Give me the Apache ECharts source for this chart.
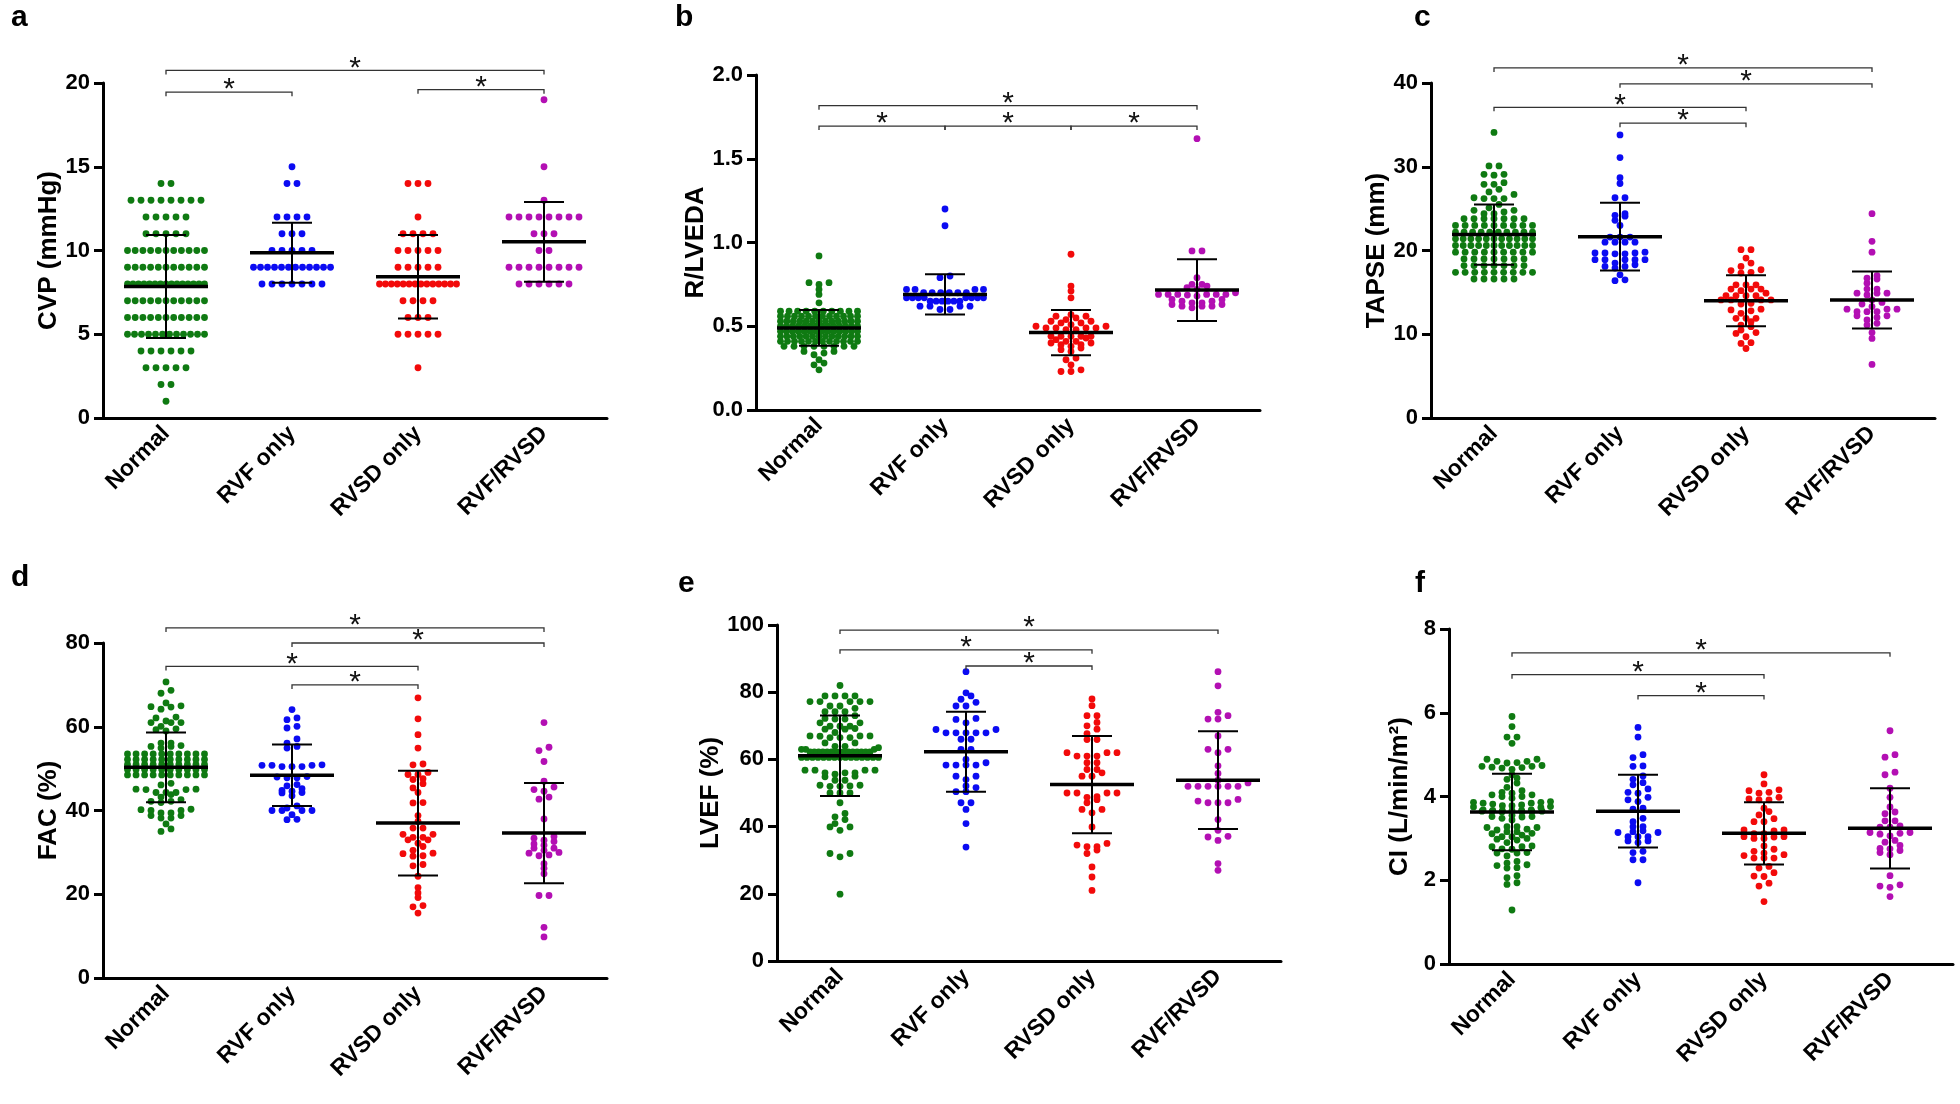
<!DOCTYPE html>
<html>
<head>
<meta charset="utf-8">
<title>RV function groups</title>
<script src="https://cdn.jsdelivr.net/npm/echarts@6/dist/echarts.min.js"></script>
<style>
  html, body { margin: 0; padding: 0; background: #fff; }
  #chart { width: 1960px; height: 1104px; }
</style>
</head>
<body>
<div id="chart"></div>
<script>
const groups = ['Normal', 'RVF only', 'RVSD only', 'RVF/RVSD']
const groupColors = ['#0f7a12', '#0b0bf2', '#f20a0a', '#b30fb3']

// a: CVP (mmHg)
const cvpNormal = [14, 14, 13, 13, 13, 13, 13, 13, 13, 13, 12, 12, 12, 12, 12, 11, 11, 11, 11, 11,
  10, 10, 10, 10, 10, 10, 10, 10, 10, 10, 10, 9, 9, 9, 9, 9, 9, 9, 9, 9, 9, 9,
  8, 8, 8, 8, 8, 8, 8, 8, 8, 8, 8, 8, 8, 8, 8, 7, 7, 7, 7, 7, 7, 7, 7, 7, 7, 7,
  6, 6, 6, 6, 6, 6, 6, 6, 6, 6, 6, 5, 5, 5, 5, 5, 5, 5, 5, 5, 5, 5, 5,
  4, 4, 4, 4, 4, 4, 3, 3, 3, 3, 3, 2, 2, 1]
const cvpRvf = [15, 14, 14, 12, 12, 12, 12, 11, 11, 11, 10, 10, 10, 10, 10,
  9, 9, 9, 9, 9, 9, 9, 9, 9, 9, 9, 9, 8, 8, 8, 8, 8, 8, 8]
const cvpRvsd = [14, 14, 14, 12, 11, 11, 11, 11, 10, 10, 10, 10, 10, 9, 9, 9, 9, 9,
  8, 8, 8, 8, 8, 8, 8, 8, 8, 8, 8, 8, 8, 8, 7, 7, 7, 7, 6, 6, 6, 5, 5, 5, 5, 5, 3]
const cvpBoth = [19, 15, 13, 12, 12, 12, 12, 12, 12, 12, 12, 11, 11, 11, 10, 10,
  9, 9, 9, 9, 9, 9, 9, 9, 8, 8, 8, 8, 8, 8]
const cvpMean = [7.85, 9.86, 8.43, 10.52]
const cvpSd = [3.07, 1.79, 2.49, 2.38]
const cvpMarks = [[0, 1, 19.45], [0, 3, 20.75], [2, 3, 19.6]]

// b: R/LVEDA
const rlNormal = [0.92, 0.76, 0.75, 0.76, 0.72, 0.69, 0.64,
  0.59, 0.59, 0.59, 0.59, 0.59, 0.59, 0.59, 0.59, 0.59, 0.59,
  0.56, 0.56, 0.56, 0.56, 0.56, 0.56, 0.56, 0.56, 0.56, 0.56, 0.56, 0.56,
  0.53, 0.53, 0.53, 0.53, 0.53, 0.53, 0.53, 0.53, 0.53, 0.53, 0.53, 0.53, 0.53,
  0.50, 0.50, 0.50, 0.50, 0.50, 0.50, 0.50, 0.50, 0.50, 0.50, 0.50, 0.50, 0.50, 0.50,
  0.47, 0.47, 0.47, 0.47, 0.47, 0.47, 0.47, 0.47, 0.47, 0.47, 0.47, 0.47, 0.47, 0.47,
  0.44, 0.44, 0.44, 0.44, 0.44, 0.44, 0.44, 0.44, 0.44, 0.44, 0.44, 0.44, 0.44,
  0.41, 0.41, 0.41, 0.41, 0.41, 0.41, 0.41, 0.41, 0.41, 0.41, 0.41, 0.41,
  0.38, 0.38, 0.38, 0.38, 0.38, 0.38, 0.38, 0.38,
  0.35, 0.33, 0.34, 0.35, 0.28, 0.30, 0.27, 0.24]
const rlRvf = [1.20, 1.10, 0.79, 0.80, 0.72, 0.72, 0.72, 0.72, 0.70, 0.70, 0.70, 0.70, 0.70, 0.70,
  0.67, 0.67, 0.67, 0.67, 0.67, 0.67, 0.67, 0.67, 0.65, 0.65, 0.65, 0.65, 0.65, 0.65,
  0.62, 0.62, 0.62, 0.62, 0.60, 0.60]
const rlRvsd = [0.93, 0.74, 0.71, 0.67, 0.57, 0.56, 0.55, 0.53, 0.52, 0.51, 0.50, 0.52, 0.53, 0.54, 0.56,
  0.49, 0.48, 0.50, 0.48, 0.49, 0.49, 0.49, 0.44, 0.44, 0.44, 0.44, 0.44,
  0.42, 0.41, 0.40, 0.39, 0.37, 0.38, 0.39, 0.40, 0.41, 0.43,
  0.36, 0.35, 0.31, 0.30, 0.27, 0.24, 0.23, 0.23]
const rlBoth = [1.62, 0.95, 0.95, 0.79, 0.75, 0.75, 0.74, 0.73, 0.72, 0.70, 0.69, 0.69, 0.68, 0.69,
  0.69, 0.69, 0.69, 0.686, 0.66, 0.65, 0.64, 0.63, 0.62, 0.62, 0.61, 0.62, 0.63, 0.64, 0.65, 0.66]
const rlMean = [0.49, 0.69, 0.462, 0.716]
const rlSd = [0.107, 0.12, 0.135, 0.184]
const rlMarks = [[0, 3, 1.817], [0, 1, 1.695], [1, 2, 1.695], [2, 3, 1.695]]

// c: TAPSE (mm)
const tapseNormal = [34.1, 30.1, 30.1, 29.1, 29.1, 29.0, 28.1, 27.9, 27.9, 27.0, 27.3,
  26.3, 26.2, 26.2, 26.2, 26.7, 25.1, 24.8, 25.5, 24.4, 24.4, 24.8, 24.6,
  23.8, 23.8, 23.8, 23.8, 23.8, 23.8, 23.8, 23.0, 23.0, 23.0, 23.0, 23.0, 23.0, 23.0, 23.0, 23.0,
  22.2, 22.2, 22.2, 22.2, 22.2, 22.2, 22.2, 22.2, 22.2, 22.2,
  21.4, 21.4, 21.4, 21.4, 21.4, 21.4, 21.4, 21.4, 21.4, 21.4, 21.4,
  20.6, 20.6, 20.6, 20.6, 20.6, 20.6, 20.6, 20.6, 20.6, 20.6, 20.6,
  19.8, 19.8, 19.8, 19.8, 19.8, 19.8, 19.8, 19.8, 19.8,
  19.0, 19.0, 19.0, 19.0, 19.0, 19.0, 19.0, 18.2, 18.2, 18.2, 18.2, 18.2, 18.2, 18.2,
  17.4, 17.4, 17.4, 17.4, 17.4, 17.4, 17.4, 17.4, 17.4, 16.6, 16.6, 16.6, 16.6, 16.6]
const tapseRvf = [33.8, 31.1, 28.7, 28.0, 26.3, 26.3, 24.4, 24.1, 24.2, 23.6, 23.0,
  21.6, 21.0, 21.0, 21.0, 21.0, 21.6, 21.6, 19.7, 19.6, 19.7, 19.7, 19.6, 19.8,
  18.9, 18.9, 18.9, 18.9, 18.9, 18.3, 18.1, 18.1, 18.5, 17.1, 17.9, 16.4, 16.5]
const tapseRvsd = [20.1, 20.1, 19.1, 18.5, 18.1, 17.6, 17.3, 17.4, 17.7, 15.9, 15.9, 15.4, 15.4, 15.4, 15.9,
  14.9, 14.6, 14.6, 15.2, 14.6, 14.6, 14.1, 14.1, 14.1, 14.1, 13.6, 13.7, 13.0, 12.8, 12.5, 12.9,
  11.9, 11.9, 11.1, 11.5, 11.9, 10.5, 10.1, 9.7, 10.2, 10.9, 9.0, 8.3, 8.9]
const tapseBoth = [24.4, 21.1, 19.8, 17.0, 16.6, 16.7, 16.1, 14.9, 14.9, 15.4, 15.4, 14.7, 14.9,
  13.6, 14.1, 13.8, 13.0, 13.0, 12.7, 12.7, 12.7, 13.0, 13.3, 12.2, 11.7, 11.3, 12.0, 12.2,
  11.1, 10.2, 9.5, 6.4]
const tapseMean = [21.9, 21.65, 14.0, 14.1]
const tapseSd = [3.6, 4.05, 3.03, 3.4]
const tapseMarks = [[0, 3, 41.8], [1, 3, 39.9], [0, 2, 37.1], [1, 2, 35.2]]

// d: FAC (%)
const facNormal = [70.7, 68.7, 68.0, 65.7, 64.8, 64.2, 64.7, 65.0, 62.1, 61.0, 61.0, 60.1, 61.0, 61.4, 62.3,
  59.3, 59.0, 59.5, 56.1, 55.5, 55.3, 54.9, 55.3, 56.1,
  53.5, 53.5, 53.5, 53.5, 53.5, 53.5, 53.5, 53.5, 53.5, 53.5,
  52.2, 52.2, 52.2, 52.2, 52.2, 52.2, 52.2, 52.2, 52.2, 52.2,
  51.0, 51.0, 51.0, 51.0, 51.0, 51.0, 51.0, 51.0, 51.0, 51.0,
  49.8, 49.8, 49.8, 49.8, 49.8, 49.8, 49.8, 49.8, 49.8, 49.8,
  48.5, 48.5, 48.5, 48.5, 48.5, 48.5, 48.5, 48.5, 48.5, 48.5,
  46.5, 45.1, 45.0, 44.3, 44.3, 44.3, 45.0, 45.1, 46.1, 43.2, 42.6, 41.9, 42.2, 42.2, 43.8,
  40.2, 40.0, 39.4, 38.8, 38.2, 38.2, 38.8, 39.4, 40.0, 40.3, 36.8, 35.0, 35.6]
const facRvf = [64.1, 61.7, 62.1, 59.7, 60.1, 56.1, 54.9, 55.3, 57.1,
  50.9, 50.8, 50.5, 50.5, 50.5, 50.8, 50.8, 47.8, 48.1, 48.0, 47.8,
  45.9, 44.8, 44.3, 43.5, 44.2, 44.6, 45.2, 46.2, 41.1, 40.6,
  40.0, 40.0, 39.0, 37.8, 37.9, 40.0, 40.0]
const facRvsd = [66.9, 61.9, 58.1, 54.9, 50.9, 51.1, 49.1, 48.6, 47.4, 47.6, 48.6, 46.4, 45.4, 44.3,
  41.8, 41.9, 38.8, 37.4, 35.8, 35.8, 34.3, 33.6, 33.0, 32.2, 33.0, 33.6, 34.3,
  30.5, 29.2, 29.7, 29.8, 31.4, 29.1, 27.1, 26.8, 24.3, 21.6, 20.3, 19.2, 17.3, 17.0, 15.5]
const facBoth = [61.0, 54.3, 55.1, 51.7, 47.0, 45.0, 45.6, 44.6, 43.2, 42.7, 38.0,
  33.8, 32.9, 32.6, 33.4, 32.0, 31.0, 30.5, 29.2, 29.8, 30.0, 29.4, 31.0, 31.7,
  26.2, 27.3, 24.9, 19.7, 19.7, 12.1, 9.8]
const facMean = [50.3, 48.4, 37.0, 34.6]
const facSd = [8.3, 7.35, 12.5, 11.95]
const facMarks = [[0, 3, 83.6], [1, 3, 80.0], [0, 2, 74.4], [1, 2, 70.0]]

// e: LVEF (%)
const lvefNormal = [82.0, 77.2, 77.2, 75.9, 78.9, 78.9, 78.9, 78.9, 77.2, 75.9, 77.2, 77.2,
  73.0, 72.0, 70.9, 69.9, 69.9, 69.9, 70.9, 72.2, 72.0, 75.2, 74.2, 74.2, 74.2,
  69.0, 68.0, 67.0, 66.5, 66.5, 66.5, 66.9, 67.0, 67.0, 69.2, 69.0,
  64.9, 63.9, 63.0, 63.0, 63.0, 63.5, 63.9, 64.9,
  62.2, 62.2, 62.2, 62.2, 62.2, 62.2, 62.2, 62.2, 62.2, 62.2, 62.2, 62.2, 62.2, 62.2, 62.2,
  60.6, 60.6, 60.6, 60.6, 60.6, 60.6, 60.6, 60.6, 60.6, 60.6, 60.6, 60.6, 60.6, 60.6, 60.6,
  56.8, 56.8, 56.0, 55.6, 54.8, 55.0, 56.0, 56.0, 56.8, 56.8,
  53.8, 52.0, 52.0, 52.3, 52.1, 52.3, 53.8, 50.0, 50.0, 50.0, 47.1,
  43.9, 42.9, 42.1, 39.9, 38.9, 39.9, 40.9, 32.0, 31.0, 32.0, 19.9]
const lvefRvf = [86.1, 79.8, 77.9, 75.9, 75.9, 77.0, 78.9, 72.2, 70.9, 71.9,
  68.9, 67.9, 66.0, 67.9, 68.9, 67.9, 66.0, 67.9, 67.9, 63.0, 63.0,
  60.0, 58.3, 58.3, 58.3, 58.3, 59.0, 55.0, 54.0, 55.0, 52.1, 50.4, 50.4, 51.6,
  47.1, 47.1, 45.1, 40.9, 33.9]
const lvefRvsd = [78.0, 76.0, 73.0, 73.0, 71.0, 70.0, 69.0, 67.7, 65.9, 65.9,
  62.0, 62.0, 61.0, 61.0, 61.0, 62.0, 59.0, 59.0, 57.0, 56.0, 55.0, 55.0, 57.0,
  50.0, 50.0, 48.7, 48.0, 48.9, 47.1, 50.0, 50.0, 45.1, 44.1, 45.1, 39.9,
  34.5, 34.0, 32.0, 33.0, 34.0, 35.0, 28.0, 25.0, 21.0]
const lvefBoth = [86.1, 81.9, 73.0, 72.0, 72.0, 74.0, 67.0, 63.0, 62.0, 63.0, 58.1, 55.8,
  53.0, 52.0, 52.0, 52.0, 52.0, 52.0, 52.0, 53.8, 47.6, 47.1, 47.1, 47.1, 48.1,
  42.1, 38.9, 36.9, 35.9, 37.1, 27.0, 29.0]
const lvefMean = [61.1, 62.3, 52.5, 53.8]
const lvefSd = [12.0, 11.9, 14.5, 14.55]
const lvefMarks = [[0, 3, 98.5], [0, 2, 92.6], [1, 2, 87.8]]

// f: CI (L/min/m2)
const ciNormal = [5.91, 5.67, 5.42, 5.42, 5.27,
  4.89, 4.84, 4.80, 4.74, 4.70, 4.68, 4.65, 4.69, 4.72, 4.72, 4.81, 4.84, 4.89,
  4.52, 4.41, 4.32, 4.44, 4.22, 4.10, 4.04, 4.00, 3.96, 4.00, 4.04, 4.08, 4.14, 3.88, 3.86,
  3.84, 3.82, 3.78, 3.76, 3.75, 3.74, 3.78, 3.80, 3.84, 3.86,
  3.68, 3.67, 3.66, 3.65, 3.64, 3.63, 3.63, 3.64, 3.65, 3.66, 3.67, 3.68,
  3.52, 3.51, 3.48, 3.44, 3.52, 3.55,
  3.28, 3.26, 3.22, 3.16, 3.12, 3.11, 3.16, 3.20, 3.26, 3.28,
  3.04, 2.98, 2.96, 2.90, 3.00, 3.04, 3.08,
  2.80, 2.75, 2.66, 2.65, 2.58, 2.65, 2.74, 2.80, 2.82,
  2.41, 2.35, 2.29, 2.30, 2.37, 2.45, 2.11, 2.06, 1.94, 1.90, 1.29]
const ciRvf = [5.65, 5.42, 4.93, 5.00, 4.49, 4.72, 4.73, 4.41, 4.33, 4.28, 4.18, 4.10, 4.08,
  3.92, 3.98, 3.88, 3.72, 3.70, 3.40, 3.48, 3.28, 3.18, 3.14, 3.14, 3.16, 3.04, 3.28,
  3.04, 2.94, 2.90, 2.94, 3.04, 2.69, 2.66, 2.49, 2.49, 1.94]
const ciRvsd = [4.52, 4.30, 4.16, 4.10, 4.08, 4.14, 3.92, 3.98, 3.92, 3.94, 3.64, 3.72, 3.56,
  3.47, 3.40, 3.40, 3.20, 3.18, 3.11, 3.04, 3.00, 3.00, 3.03, 3.04, 3.11, 3.20,
  2.74, 2.82, 2.65, 2.59, 2.53, 2.53, 2.53, 2.61, 2.69, 2.33, 2.29,
  2.10, 2.18, 2.09, 1.93, 1.86, 1.49]
const ciBoth = [5.57, 5.00, 4.94, 4.52, 4.58, 4.20, 3.98, 3.75, 3.63, 3.59,
  3.42, 3.27, 3.27, 3.30, 3.42, 3.14, 3.06, 3.12, 3.10, 3.14, 2.95, 2.91,
  2.83, 2.75, 2.66, 2.61, 2.71, 2.76, 2.11, 1.89, 1.83, 1.86, 1.61]
const ciMean = [3.63, 3.65, 3.12, 3.24]
const ciSd = [0.915, 0.87, 0.745, 0.96]
const ciMarks = [[0, 3, 7.43], [0, 2, 6.91], [1, 2, 6.41]]

const panels = [
  { tag: 'a', name: 'CVP (mmHg)', max: 20, step: 5, digits: 0,
    sets: [cvpNormal, cvpRvf, cvpRvsd, cvpBoth], mean: cvpMean, sd: cvpSd, marks: cvpMarks,
    box: { left: 103, top: 83, width: 504, height: 335 }, tagAt: [11, 3] },
  { tag: 'b', name: 'R/LVEDA', max: 2, step: 0.5, digits: 1,
    sets: [rlNormal, rlRvf, rlRvsd, rlBoth], mean: rlMean, sd: rlSd, marks: rlMarks,
    box: { left: 756, top: 75, width: 504, height: 335 }, tagAt: [675, 3] },
  { tag: 'c', name: 'TAPSE (mm)', max: 40, step: 10, digits: 0,
    sets: [tapseNormal, tapseRvf, tapseRvsd, tapseBoth], mean: tapseMean, sd: tapseSd, marks: tapseMarks,
    box: { left: 1431, top: 83, width: 504, height: 335 }, tagAt: [1414, 3] },
  { tag: 'd', name: 'FAC (%)', max: 80, step: 20, digits: 0,
    sets: [facNormal, facRvf, facRvsd, facBoth], mean: facMean, sd: facSd, marks: facMarks,
    box: { left: 103, top: 643, width: 504, height: 335 }, tagAt: [11, 563] },
  { tag: 'e', name: 'LVEF (%)', max: 100, step: 20, digits: 0,
    sets: [lvefNormal, lvefRvf, lvefRvsd, lvefBoth], mean: lvefMean, sd: lvefSd, marks: lvefMarks,
    box: { left: 777, top: 625, width: 504, height: 336 }, tagAt: [678, 569] },
  { tag: 'f', name: 'CI (L/min/m\u00b2)', max: 8, step: 2, digits: 0,
    sets: [ciNormal, ciRvf, ciRvsd, ciBoth], mean: ciMean, sd: ciSd, marks: ciMarks,
    box: { left: 1449, top: 629, width: 504, height: 335 }, tagAt: [1415, 569] }
]

const FONT = 'Liberation Sans'
const ROW_PX = 4.5   // points closer than this (vertically) share a row
const DOT_GAP = 10   // horizontal spacing inside a row
const MAX_ROW = 77   // widest a row may get

// Prism-like scatter: bin points into rows, lowest values in the middle
function swarm(values, pxPerUnit) {
  const sorted = values.slice().sort((a, b) => a - b)
  const rows = []
  let row = null
  sorted.forEach(v => {
    if (!row || (v - row[0]) * pxPerUnit > ROW_PX) {
      row = [v]
      rows.push(row)
    } else {
      row.push(v)
    }
  })
  const out = []
  rows.forEach(r => {
    const k = r.length
    const gap = k > 1 ? Math.min(DOT_GAP, MAX_ROW / (k - 1)) : 0
    const slots = []
    for (let i = 0; i < k; i++) slots.push(i - (k - 1) / 2)
    slots.sort((a, b) => Math.abs(a) - Math.abs(b) || a - b)
    r.forEach((v, i) => out.push([v, slots[i] * gap]))
  })
  return out
}

const grid = [], xAxis = [], yAxis = [], series = [], graphic = []

panels.forEach((p, i) => {
  grid.push(p.box)
  xAxis.push({
    type: 'category', gridIndex: i, data: groups,
    axisLine: { lineStyle: { color: '#000', width: 3 } },
    axisTick: { alignWithLabel: true, length: 9, lineStyle: { color: '#000', width: 3 } },
    axisLabel: { rotate: 45, interval: 0, margin: 12, color: '#000', fontFamily: FONT, fontWeight: 'bold', fontSize: 23 },
    splitLine: { show: false }
  })
  yAxis.push({
    type: 'value', gridIndex: i, min: 0, max: p.max, interval: p.step,
    name: p.name, nameLocation: 'middle', nameGap: 36,
    nameTextStyle: { color: '#000', fontFamily: FONT, fontWeight: 'bold', fontSize: 26 },
    axisLine: { show: true, lineStyle: { color: '#000', width: 3 } },
    axisTick: { show: true, length: 9, lineStyle: { color: '#000', width: 3 } },
    axisLabel: { margin: 13, color: '#000', fontFamily: FONT, fontWeight: 'bold', fontSize: 22,
      formatter: v => v.toFixed(p.digits) },
    splitLine: { show: false }
  })

  const ppu = p.box.height / p.max
  p.sets.forEach((vals, gi) => {
    series.push({
      type: 'scatter', xAxisIndex: i, yAxisIndex: i, silent: true,
      symbol: 'circle', symbolSize: 6.8, z: 2,
      itemStyle: { color: groupColors[gi], opacity: 1 },
      data: swarm(vals, ppu).map(([v, dx]) => ({ value: [gi, v], symbolOffset: [dx, 0] }))
    })
  })

  // mean line with SD whiskers
  series.push({
    type: 'custom', xAxisIndex: i, yAxisIndex: i, silent: true, z: 5,
    data: groups.map((g, gi) => [gi, p.mean[gi], p.sd[gi]]),
    renderItem: (params, api) => {
      const x = api.value(0), m = api.value(1), s = api.value(2)
      const c = api.coord([x, m])
      const hi = api.coord([x, m + s])
      const lo = api.coord([x, m - s])
      const seg = (x1, y1, x2, y2, w) => ({
        type: 'line', shape: { x1, y1, x2, y2 }, style: { stroke: '#000', lineWidth: w }
      })
      return {
        type: 'group',
        children: [
          seg(c[0], hi[1], c[0], lo[1], 2),
          seg(c[0] - 20, hi[1], c[0] + 20, hi[1], 2),
          seg(c[0] - 20, lo[1], c[0] + 20, lo[1], 2),
          seg(c[0] - 42, c[1], c[0] + 42, c[1], 3.5)
        ]
      }
    }
  })

  // significance brackets
  series.push({
    type: 'custom', xAxisIndex: i, yAxisIndex: i, silent: true, z: 6, clip: false,
    encode: { x: [0, 1], y: 2 },
    data: p.marks,
    renderItem: (params, api) => {
      const a = api.coord([api.value(0), api.value(2)])
      const b = api.coord([api.value(1), api.value(2)])
      return {
        type: 'group',
        children: [
          { type: 'polyline',
            shape: { points: [[a[0], a[1] + 4], a, b, [b[0], b[1] + 4]] },
            style: { stroke: '#333', lineWidth: 1.3, fill: 'none' } },
          { type: 'text', x: (a[0] + b[0]) / 2, y: a[1] - 2,
            style: { text: '*', fontSize: 30, fontFamily: FONT, fill: '#111', align: 'center', verticalAlign: 'middle' } }
        ]
      }
    }
  })

  graphic.push({
    type: 'text', left: p.tagAt[0], top: p.tagAt[1],
    style: { text: p.tag, fontSize: 30, fontWeight: 'bold', fontFamily: FONT, fill: '#000' }
  })
})

const chart = echarts.init(document.getElementById('chart'), null, { renderer: 'canvas' })
chart.setOption({
  animation: false,
  backgroundColor: '#fff',
  grid, xAxis, yAxis, series, graphic
})
</script>
</body>
</html>
